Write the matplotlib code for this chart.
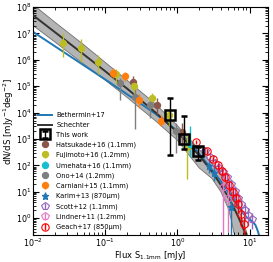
import numpy as np
import matplotlib
matplotlib.use("Agg")
import matplotlib.pyplot as plt
from matplotlib import ticker

# ---- model curves ----
sch_S = [0.01, 0.02, 0.05, 0.1, 0.2, 0.5, 1.0, 2.0, 3.0, 4.0, 5.0, 6.0, 7.0, 8.0, 9.0, 10.0]
sch_y = [4.9e7, 1.13e7, 1.63e6, 3.7e5, 8.2e4, 1.0e4, 1.8e3, 2.4e2, 58, 18, 6.6, 2.6, 1.07, 0.46, 0.21, 0.095]
band_S = [0.01, 0.02, 0.05, 0.1, 0.2, 0.5, 1.0, 2.0, 3.0, 4.0, 5.0, 5.5, 6.0, 7.0, 8.0, 9.0, 10.0]
band_lo = [2.0e7, 4.8e6, 7.0e5, 1.7e5, 3.8e4, 4.8e3, 8.9e2, 8.0e1, 32, 10, 2.5, 1.0, 0.32, 0.05, 0.01, 0.002, 0.0005]
band_hi = [1.25e8, 2.7e7, 3.8e6, 8.0e5, 1.7e5, 2.1e4, 3.2e3, 4.0e2, 1.2e2, 50, 18, 10, 6.3, 2.2, 0.8, 0.32, 0.13]
beth_S = [0.01, 0.02, 0.05, 0.1, 0.2, 0.5, 1.0, 1.5, 2.0, 3.0, 4.0, 5.0, 6.0, 7.0, 8.0, 9.0, 10.0, 11.0, 12.0, 13.0, 14.0]
beth_y = [1.15e7, 3.3e6, 6.3e5, 1.8e5, 5.0e4, 8.9e3, 2.0e3, 7.1e2, 2.8e2, 70, 25, 10, 5.0, 2.8, 1.6, 1.1, 0.9, 0.72, 0.56, 0.32, 0.16]

# ---- data sets: flux, value, lower, upper ----
tw_S = [0.78, 1.22, 1.95]
tw_y = [8.3e3, 1.0e3, 3.4e2]
tw_lo = [2.4e2, 4.2e2, 1.66e2]
tw_hi = [3.5e4, 7.6e3, 5.2e2]

hat_S = [0.24, 0.52, 1.15]
hat_y = [1.5e5, 1.9e4, 1.9e3]
hat_lo = [8e4, 9e3, 6e2]
hat_hi = [2.5e5, 3.5e4, 4e3]

fuj_S = [0.026, 0.046, 0.08, 0.14, 0.25, 0.44, 0.77, 1.35]
fuj_y = [4.2e6, 2.8e6, 8e5, 2.9e5, 1.0e5, 3.7e4, 8e3, 5e2]
fuj_lo = [1.3e6, 8e5, 3e5, 1.2e5, 4e4, 1.5e4, 3e3, 30]
fuj_hi = [1e7, 6e6, 1.5e6, 4.5e5, 1.7e5, 5.5e4, 1.2e4, 1.5e3]

ume_S = [1.5]
ume_y = [6.5e2]
ume_lo = [2e2]
ume_hi = [3e3]

ono_S = [0.16, 0.26, 0.42, 0.95]
ono_y = [1.3e5, 4.0e4, 1.9e4, 2.0e3]
ono_lo = [3e4, 2.5e3, 6e3, 3e2]
ono_hi = [2e5, 8e4, 3e4, 4e3]

car_S = [0.13, 0.19, 0.29, 0.6]
car_y = [3.3e5, 2.4e5, 3.0e4, 5.0e3]
car_lo = [2e5, 1.6e5, 1.5e4, 3e3]
car_hi = [5e5, 3.5e5, 5e4, 8e3]

kar_S = [2.7, 3.2, 5.5]
kar_y = [95, 50, 2.6]
kar_lo = [50, 25, 0.01]
kar_hi = [180, 95, 10]

sco_S = [2.4, 2.8, 3.3, 3.8, 4.3, 4.9, 5.5, 6.2, 6.9, 7.7, 8.6, 9.6, 10.7]
sco_y = [350, 200, 120, 80, 55, 35, 20, 11, 6, 3.5, 2.0, 1.3, 0.9]
sco_lo = [250, 140, 80, 50, 35, 20, 12, 6, 3, 1.6, 0.8, 0.5, 0.4]
sco_hi = [450, 260, 170, 120, 80, 50, 30, 17, 10, 6, 3.5, 2.4, 1.6]

lin_S = [4.3, 5.0]
lin_y = [15, 6]
lin_lo = [0.01, 0.3]
lin_hi = [60, 20]

gea_S = [1.8, 2.6, 3.1, 3.6, 4.1, 4.6, 5.2, 5.8, 6.4, 7.0, 7.6, 8.3]
gea_y = [800, 350, 180, 100, 60, 35, 18, 10, 6, 3.5, 1.5, 0.6]
gea_lo = [650, 280, 140, 75, 42, 24, 11, 6, 3, 1.6, 0.6, 0.2]
gea_hi = [950, 420, 220, 125, 78, 46, 25, 14, 9, 5.5, 2.5, 1.1]

fig = plt.figure(figsize=(2.73, 2.62), dpi=100)
ax = fig.add_axes([0.121, 0.103, 0.861, 0.870])
ax.set_xscale('log')
ax.set_yscale('log')

ax.fill_between(band_S, band_lo, band_hi, color='#b4b4b4', edgecolor='#707070', lw=0.6, zorder=1)
ax.plot(beth_S, beth_y, color='#1f77b4', lw=1.4, zorder=2, label='Bethermin+17')
ax.plot(sch_S, sch_y, color='#333333', lw=1.4, zorder=3, label='Schechter')


def errs(y, lo, hi):
    y = np.asarray(y, float)
    return [y - np.asarray(lo, float), np.asarray(hi, float) - y]


def circ(S, y, lo, hi, c, lab):
    ax.errorbar(S, y, yerr=errs(y, lo, hi), fmt='o', color=c, ms=5.3, mec='none',
                elinewidth=1.0, capsize=0, zorder=4, label=lab)


tw = ax.errorbar(tw_S, tw_y, yerr=errs(tw_y, tw_lo, tw_hi), fmt='s', mfc='none', mec='k', mew=1.8,
                 ms=7, color='k', ecolor='k', elinewidth=1.0, capsize=2.5, capthick=1.5, zorder=6,
                 label='This work')
circ(hat_S, hat_y, hat_lo, hat_hi, '#8c564b', 'Hatsukade+16 (1.1mm)')
circ(fuj_S, fuj_y, fuj_lo, fuj_hi, '#bcbd22', 'Fujimoto+16 (1.2mm)')
circ(ume_S, ume_y, ume_lo, ume_hi, '#17becf', 'Umehata+16 (1.1mm)')
circ(ono_S, ono_y, ono_lo, ono_hi, '#7f7f7f', 'Ono+14 (1.2mm)')
circ(car_S, car_y, car_lo, car_hi, '#ff7f0e', 'Carniani+15 (1.1mm)')
ax.errorbar(kar_S, kar_y, yerr=errs(kar_y, kar_lo, kar_hi), fmt='*', color='#1f77b4', ms=5,
            elinewidth=1.0, capsize=0, zorder=4, label='Karim+13 (870μm)')
ax.errorbar(sco_S, sco_y, yerr=errs(sco_y, sco_lo, sco_hi), fmt='p', mfc='none', mec='#9467bd',
            color='#9467bd', ms=5.3, mew=0.8, elinewidth=1.0, capsize=0, zorder=4, label='Scott+12 (1.1mm)')
ax.errorbar(lin_S, lin_y, yerr=errs(lin_y, lin_lo, lin_hi), fmt='p', mfc='none', mec='#e377c2',
            color='#e377c2', ms=5.3, mew=0.8, elinewidth=1.0, capsize=0, zorder=4, label='Lindner+11 (1.2mm)')
ax.errorbar(gea_S, gea_y, yerr=errs(gea_y, gea_lo, gea_hi), fmt='o', mfc='none', mec='red',
            color='red', ms=5.3, mew=0.8, elinewidth=1.0, capsize=0, zorder=5, label='Geach+17 (850μm)')

ax.set_xlim(0.01, 18)
ax.set_ylim(0.23, 1e8)
ax.tick_params(which='both', direction='in', top=True, right=True, labelsize=5.8, pad=1.0)
ax.tick_params(which='major', length=4, width=0.8)
ax.tick_params(which='minor', length=2, width=0.6)
ymaj = [10.0 ** k for k in range(0, 9)]
xmaj = [10.0 ** k for k in range(-2, 2)]
ymin = [m * 10.0 ** k for k in range(-1, 8) for m in range(2, 10) if 0.23 <= m * 10.0 ** k <= 1e8]
xmin = [m * 10.0 ** k for k in range(-2, 2) for m in range(2, 10) if m * 10.0 ** k <= 18]
ax.yaxis.set_major_locator(ticker.FixedLocator(ymaj))
ax.xaxis.set_major_locator(ticker.FixedLocator(xmaj))
ax.yaxis.set_minor_locator(ticker.FixedLocator(ymin))
ax.xaxis.set_minor_locator(ticker.FixedLocator(xmin))
ax.xaxis.set_major_formatter(ticker.LogFormatterSciNotation())
ax.yaxis.set_major_formatter(ticker.LogFormatterSciNotation())
ax.xaxis.set_minor_formatter(ticker.NullFormatter())
ax.yaxis.set_minor_formatter(ticker.NullFormatter())
ax.set_xlabel(r'Flux S$_{\rm 1.1mm}$ [mJy]', fontsize=6.0, labelpad=0.0)
ax.set_ylabel(r'dN/dS [mJy$^{-1}$deg$^{-2}$]', fontsize=6.2, labelpad=0.3)
for s in ax.spines.values():
    s.set_linewidth(0.8)

ax.legend(loc='lower left', fontsize=4.8, frameon=False, handlelength=2.2, handletextpad=0.6,
          labelspacing=0.57, borderaxespad=0.3, numpoints=1)

fig.savefig('out.png', dpi=100)
